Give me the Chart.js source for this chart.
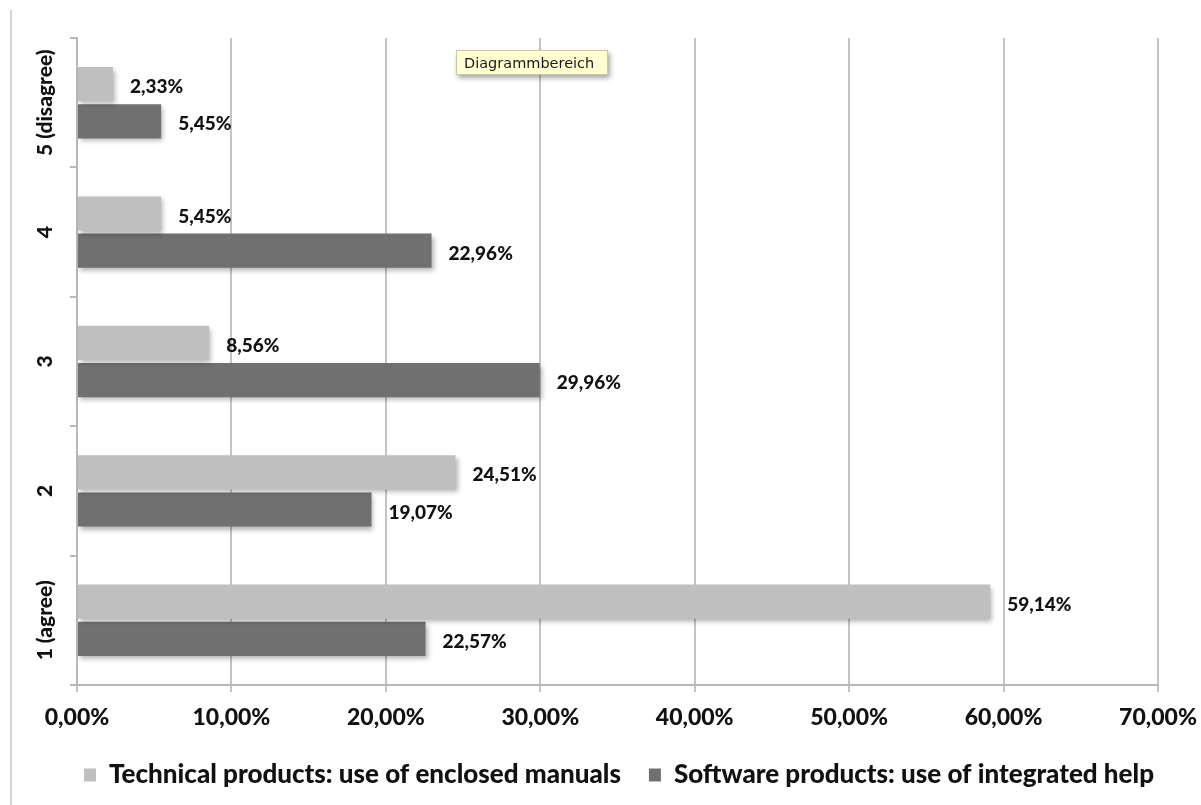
<!DOCTYPE html>
<html lang="en">
<head>
  <meta charset="UTF-8">
  <title>Use of manuals and integrated help</title>
  <script src="https://cdn.jsdelivr.net/npm/chart.js"></script>
  <style>
    * { box-sizing: border-box; margin: 0; padding: 0; }
    body { background: #fff; width: 1201px; height: 805px; overflow: hidden; }
    .wrap { position: relative; width: 1201px; height: 805px; }
    .edge { position: absolute; left: 10px; top: 10px; width: 2px; height: 795px; background: #d4d4d4; }
    .hint {
      position: absolute; left: 456px; top: 50px; width: 152px; height: 25px; padding-left: 7px;
      font: 14.5px "DejaVu Sans", sans-serif; line-height: 24px; color: #1a1a1a;
      background: rgba(255, 255, 204, 0.9); border: 1px solid #c9c9a8;
      box-shadow: 2px 3px 5px rgba(0,0,0,0.35);
    }
  </style>
</head>
<body>
  <div class="wrap">
    <canvas id="chart" width="1201" height="805"></canvas>
    <div class="edge"></div>
    <div class="hint">Diagrammbereich</div>
  </div>
  <script>
    const categories = ['5 (disagree)', '4', '3', '2', '1 (agree)'];
    const manuals = [2.33, 5.45, 8.56, 24.51, 59.14];
    const integratedHelp = [5.45, 22.96, 29.96, 19.07, 22.57];
    const seriesNames = ['Technical products: use of enclosed manuals', 'Software products: use of integrated help'];
    const xTicks = [0, 10, 20, 30, 40, 50, 60, 70];

    const FONT = 'Lato, "Open Sans", sans-serif';
    const pct = v => v.toFixed(2).replace('.', ',') + '%';

    // soft drop shadow under the bars + value labels at the bar ends
    const barDecor = {
      id: 'barDecor',
      beforeDatasetsDraw(chart) {
        const ctx = chart.ctx;
        ctx.save();
        ctx.shadowColor = 'rgba(0,0,0,0.30)';
        ctx.shadowOffsetX = 2;
        ctx.shadowOffsetY = 3;
        ctx.shadowBlur = 5;
      },
      afterDatasetsDraw(chart) {
        const ctx = chart.ctx;
        ctx.restore();
        ctx.save();
        ctx.font = '900 19px ' + FONT;
        ctx.fillStyle = '#111';
        ctx.textAlign = 'left';
        ctx.textBaseline = 'middle';
        chart.data.datasets.forEach((ds, di) => {
          chart.getDatasetMeta(di).data.forEach((bar, i) => {
            ctx.fillText(pct(ds.data[i]), bar.x + 17, bar.y + 3);
          });
        });
        ctx.restore();
      }
    };

    // rotated category labels on the left
    const catLabels = {
      id: 'catLabels',
      afterDraw(chart) {
        const ctx = chart.ctx, y = chart.scales.y;
        ctx.save();
        ctx.font = '900 21px ' + FONT;
        ctx.fillStyle = '#111';
        ctx.textAlign = 'center';
        ctx.textBaseline = 'middle';
        chart.data.labels.forEach((lab, i) => {
          ctx.save();
          ctx.translate(45, y.getPixelForTick(i));
          ctx.rotate(-Math.PI / 2);
          ctx.fillText(lab, 0, 0);
          ctx.restore();
        });
        ctx.restore();
      }
    };

    const legendShift = {
      id: 'legendShift',
      afterLayout(chart) {
        chart.legend.left += 40;
        chart.legend.right += 40;
      }
    };

    new Chart(document.getElementById('chart'), {
      type: 'bar',
      data: {
        labels: categories,
        datasets: [
          { label: seriesNames[0], data: manuals, backgroundColor: '#bfbfbf' },
          { label: seriesNames[1], data: integratedHelp, backgroundColor: '#707070' }
        ]
      },
      options: {
        indexAxis: 'y',
        responsive: false,
        animation: false,
        layout: { padding: { top: 38, right: 43, bottom: 7, left: 0 } },
        datasets: { bar: { categoryPercentage: 0.575, barPercentage: 0.92 } },
        scales: {
          x: {
            min: 0, max: 70,
            afterBuildTicks: s => { s.ticks = xTicks.map(v => ({ value: v })); },
            afterFit: s => { s.height = 49; s.paddingRight = 0; },
            grid: { color: '#c4c4c4', lineWidth: 2, tickLength: 7 },
            border: { color: '#b8b8b8', width: 2 },
            ticks: { color: '#111', padding: 12, font: { family: FONT, size: 23, weight: '900' }, callback: v => pct(v) }
          },
          y: {
            afterFit: s => { s.width = 77; },
            grid: { drawOnChartArea: false, color: '#b8b8b8', lineWidth: 2, tickLength: 7 },
            border: { color: '#b8b8b8', width: 2 },
            ticks: { display: false }
          }
        },
        plugins: {
          legend: {
            position: 'bottom',
            labels: {
              color: '#111', boxWidth: 12, boxHeight: 13, padding: 28,
              font: { family: FONT, size: 26, weight: '900' }
            }
          },
          tooltip: { enabled: false }
        }
      },
      plugins: [barDecor, catLabels, legendShift]
    });
  </script>
</body>
</html>
